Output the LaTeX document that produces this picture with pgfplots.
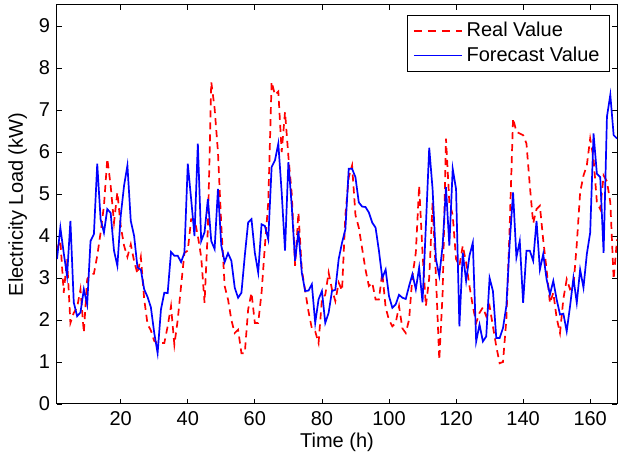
\documentclass[border=0pt]{standalone}
\usepackage{fontspec}
\setmainfont{Liberation Sans}
\usepackage{pgfplots}
\pgfplotsset{compat=1.18}
\usepackage{pgfplotstable}
\pgfplotstableread{
t real fore
1 3.69 3.45
2 3.90 4.20
3 2.65 3.60
4 3.45 3.05
5 1.93 4.36
6 2.17 2.42
7 2.30 2.09
8 2.73 2.18
9 1.70 2.73
10 2.97 2.37
11 3.09 3.88
12 3.10 4.04
13 3.53 5.72
14 4.08 4.40
15 4.72 4.08
16 5.84 4.64
17 5.20 4.55
18 4.32 3.65
19 5.04 3.29
20 4.24 4.48
21 3.77 5.20
22 3.50 5.68
23 3.80 4.36
24 3.40 4.00
25 3.10 3.25
26 3.50 3.20
27 2.50 2.73
28 1.90 2.55
29 1.75 2.30
30 1.50 1.69
31 1.45 1.21
32 1.45 2.25
33 1.45 2.65
34 1.85 2.64
35 2.33 3.62
36 1.41 3.53
37 2.00 3.53
38 2.81 3.38
39 3.60 3.60
40 3.65 5.72
41 4.40 4.88
42 4.40 4.00
43 4.00 6.20
44 3.50 3.88
45 2.41 4.09
46 4.20 4.88
47 7.67 3.88
48 7.04 3.69
49 6.00 5.12
50 4.24 3.77
51 2.81 3.38
52 2.49 3.59
53 2.00 3.41
54 1.69 2.77
55 1.77 2.53
56 1.21 2.65
57 1.21 3.53
58 2.25 4.32
59 2.65 4.40
60 1.93 3.60
61 1.93 3.13
62 2.65 4.28
63 3.77 4.24
64 4.80 3.92
65 7.67 5.64
66 7.36 5.80
67 7.44 6.20
68 6.00 5.04
69 6.95 3.65
70 5.90 5.76
71 5.00 4.72
72 3.29 3.41
73 4.56 4.12
74 3.20 3.13
75 2.70 2.69
76 2.20 2.70
77 1.80 2.85
78 1.73 1.93
79 1.45 2.49
80 2.49 2.69
81 2.60 1.93
82 3.13 2.17
83 2.73 2.69
84 2.45 2.72
85 2.89 3.45
86 2.70 3.84
87 4.50 4.16
88 5.40 5.60
89 5.68 5.60
90 4.50 5.40
91 4.20 4.80
92 3.70 4.70
93 3.20 4.69
94 2.81 4.56
95 2.89 4.32
96 2.49 4.20
97 2.49 3.65
98 3.13 3.00
99 2.30 3.20
100 2.00 2.57
101 1.85 2.29
102 1.93 2.37
103 2.33 2.60
104 1.80 2.53
105 1.69 2.50
106 2.01 2.81
107 3.05 3.09
108 3.60 2.73
109 5.20 3.25
110 3.60 2.42
111 2.33 4.24
112 3.00 6.10
113 4.80 5.12
114 3.05 3.45
115 1.05 3.05
116 2.65 3.77
117 6.32 5.16
118 4.80 3.77
119 4.50 5.60
120 3.45 5.12
121 3.29 1.85
122 3.77 3.60
123 3.37 2.93
124 2.81 3.53
125 2.33 3.84
126 1.93 1.49
127 2.17 1.89
128 2.30 1.49
129 2.09 1.61
130 2.33 3.00
131 1.85 2.69
132 1.37 1.57
133 0.97 1.57
134 1.00 1.81
135 2.01 2.33
136 4.24 3.84
137 6.80 5.04
138 6.48 3.49
139 6.44 3.88
140 6.40 2.41
141 6.20 3.65
142 5.20 3.65
143 4.30 3.41
144 4.64 4.36
145 4.72 3.20
146 3.90 3.57
147 3.20 2.97
148 2.40 2.61
149 2.65 2.93
150 2.05 2.49
151 1.69 2.13
152 2.50 2.15
153 2.97 1.73
154 2.73 2.33
155 2.80 3.00
156 3.80 2.41
157 5.04 3.20
158 5.44 2.77
159 5.68 3.57
160 6.32 4.08
161 5.84 6.44
162 4.80 5.48
163 4.64 5.40
164 5.44 3.60
165 5.30 6.84
166 4.80 7.36
167 2.97 6.40
168 3.92 6.32
}\data
\begin{document}
\begin{tikzpicture}
\begin{axis}[
  name=ax,
  scale only axis,
  width=280pt, height=199.5pt,
  xmin=1, xmax=168, ymin=0, ymax=9.5,
  xtick={20,40,...,160}, ytick={0,1,...,9},
  tick align=inside,
  major tick length=2.5pt,
  axis line style={line width=0.5pt},
  every tick/.style={black, line width=0.4pt},
  /pgf/number format/assume math mode=true,
  tick label style={font=\fontsize{10}{12}\selectfont},
  label style={font=\fontsize{10}{12}\selectfont},
  xlabel={Time (h)},
  ylabel={Electricity Load (kW)},
  xlabel style={yshift=3pt},
  ylabel style={yshift=-1pt},
  legend style={at={(1,1)}, anchor=north east, xshift=-3.5pt, yshift=-5pt,
    font=\fontsize{10}{12}\selectfont,
    inner xsep=3pt, inner ysep=1.5pt, row sep=-0.5pt},
  legend cell align=left,
]
\addplot[red, line width=0.85pt, dash pattern=on 3.5pt off 2.5pt] table[x=t, y=real] {\data};
\addplot[blue, line width=0.85pt] table[x=t, y=fore] {\data};
\addlegendimage{legend image code/.code={\draw[red, line width=0.7pt, dash pattern=on 4pt off 3pt] (0pt,0pt) -- (24pt,0pt);}}
\addlegendimage{legend image code/.code={\draw[blue, line width=0.7pt] (0pt,0pt) -- (24pt,0pt);}}
\legend{,,Real Value,Forecast Value}
\end{axis}
\pgfresetboundingbox
\path ([xshift=-28.5pt,yshift=-26.5pt]ax.south west) rectangle ([xshift=0.5pt,yshift=2.5pt]ax.north east);
\end{tikzpicture}
\end{document}
